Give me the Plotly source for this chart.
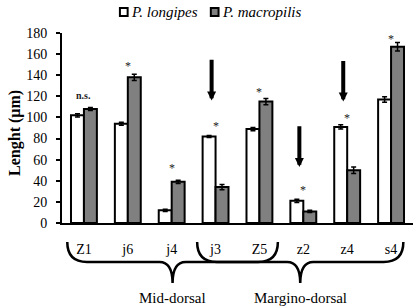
import plotly.graph_objects as go

categories = ["Z1", "j6", "j4", "j3", "Z5", "z2", "z4", "s4"]
longipes = [102, 94, 12, 82, 89, 21, 91, 117]
macropilis = [108, 138, 39, 34, 115, 11, 50, 167]
err_longipes = [1.5, 1.5, 1, 1, 1.5, 1.5, 2, 2.5]
err_macropilis = [1.5, 3, 1.5, 2.5, 3, 1, 3, 4]
sig_labels = ["n.s.", "*", "*", "*", "*", "*", "*", "*"]
sig_y = [121, 152, 55, 95, 127, 34, 102, 177]
arrow_cats = ["j3", "z2", "z4"]
arrow_tail = [156, 93, 155]
arrow_tip = [116, 53, 115]
groups = ["Mid-dorsal", "Margino-dorsal"]
group_start = ["Z1", "j3"]
group_end = ["Z5", "s4"]
series_names = ["P. longipes", "P. macropilis"]
series_colors = ["white", "#808080"]

FONT = "Liberation Serif"
xs = list(range(len(categories)))

fig = go.Figure()
for name, vals, errs, col in zip(series_names, [longipes, macropilis],
                                 [err_longipes, err_macropilis], series_colors):
    fig.add_trace(go.Bar(
        x=xs, y=vals, name=name, showlegend=False,
        marker=dict(color=col, line=dict(color="black", width=2)),
        error_y=dict(type="data", array=errs, color="black", thickness=1.5, width=2.5),
    ))

annotations = []
shapes = []

for i, (lab, yv) in enumerate(zip(sig_labels, sig_y)):
    if lab == "*":
        annotations.append(dict(x=i, y=yv, xref="x", yref="y", text="*", showarrow=False,
                                font=dict(family=FONT, size=12, color="#222"),
                                yanchor="middle", yshift=-3))
    else:
        annotations.append(dict(x=i, y=yv, xref="x", yref="y", text="<b>n.s.</b>", showarrow=False,
                                font=dict(family=FONT, size=10, color="#222"), yanchor="middle"))

for c, t, tip in zip(arrow_cats, arrow_tail, arrow_tip):
    i = categories.index(c)
    annotations.append(dict(x=i - 0.09, y=tip, ax=i - 0.09, ay=t, xref="x", yref="y",
                            axref="x", ayref="y", showarrow=True, text="",
                            arrowhead=2, arrowsize=0.45, arrowwidth=4, arrowcolor="black"))

# braces below axis
y_top, y_line, y_point = -0.10, -0.205, -0.316
offs = {"Mid-dorsal": (-0.38, 0.42), "Margino-dorsal": (-0.42, 0.28)}
for g, s, e in zip(groups, group_start, group_end):
    x0 = categories.index(s) + offs[g][0]
    x1 = categories.index(e) + offs[g][1]
    xc = (x0 + x1) / 2
    h = 0.45
    d = 0.3
    path = (f"M {x0},{y_top} Q {x0},{y_line} {x0+h},{y_line} L {xc-d},{y_line} "
            f"Q {xc},{y_line} {xc},{y_point} Q {xc},{y_line} {xc+d},{y_line} "
            f"L {x1-h},{y_line} Q {x1},{y_line} {x1},{y_top}")
    shapes.append(dict(type="path", path=path, xref="x", yref="paper",
                       line=dict(color="black", width=2.5)))
    annotations.append(dict(x=xc, y=-0.395, xref="x", yref="paper", text=g, showarrow=False,
                            font=dict(family=FONT, size=15, color="black"), yanchor="middle"))

# y-axis title
annotations.append(dict(x=-0.134, y=0.474, xref="paper", yref="paper", text="<b>Lenght (μm)</b>",
                        textangle=-90, showarrow=False, xanchor="center", yanchor="middle",
                        font=dict(family=FONT, size=16, color="black")))

# legend (manual)
leg_box_x = [0.165, 0.424]
for name, col, bx in zip(series_names, series_colors, leg_box_x):
    shapes.append(dict(type="rect", xref="paper", yref="paper", x0=bx, x1=bx + 0.022,
                       y0=1.089, y1=1.131, fillcolor=col, line=dict(color="black", width=2)))
    annotations.append(dict(x=bx + 0.026, y=1.111, xref="paper", yref="paper",
                            text=f"<i>{name}</i>", showarrow=False, xanchor="left",
                            yanchor="middle", font=dict(family=FONT, size=15, color="black")))

fig.update_layout(
    width=415, height=306,
    margin=dict(l=62, r=2, t=33, b=83),
    paper_bgcolor="white", plot_bgcolor="white",
    font=dict(family=FONT, size=14, color="black"),
    barmode="group", bargap=0.41, bargroupgap=0,
    showlegend=False,
    xaxis=dict(range=[-0.5, 7.5], tickvals=xs, ticktext=categories, showline=True,
               linecolor="black", linewidth=2, ticks="", showgrid=False, zeroline=False,
               ticklabelstandoff=12, tickfont=dict(family=FONT, size=14, color="black"),
               fixedrange=True),
    yaxis=dict(range=[0, 180], tickvals=list(range(0, 181, 20)), showline=True,
               linecolor="black", linewidth=2, ticks="outside", ticklen=4, tickwidth=2,
               tickcolor="black", showgrid=False, zeroline=False,
               tickfont=dict(family=FONT, size=14, color="black"), ticklabelstandoff=6),
    shapes=shapes,
    annotations=annotations,
)

fig.write_html("out.html")
